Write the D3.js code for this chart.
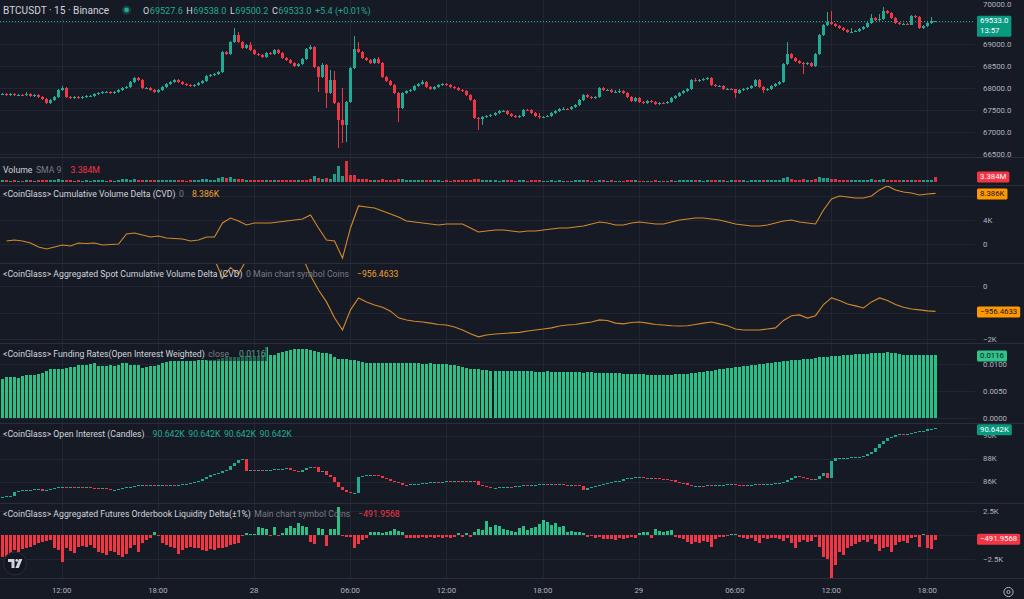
<!DOCTYPE html>
<html>
<head>
<meta charset="utf-8">
<script src="https://cdn.jsdelivr.net/npm/d3@7"></script>
<style>
  body { margin: 0; background: #161a25; overflow: hidden; }
  svg { display: block; }
</style>
</head>
<body>
<script>
// ---- Data (BTCUSDT 15m, Binance) ----
const firstCandle = '2024-05-27T08:15';
const candleMinutes = 15;
const timeTicks = ['2024-05-27T12:00','2024-05-27T18:00','2024-05-28T00:00','2024-05-28T06:00','2024-05-28T12:00',
  '2024-05-28T18:00','2024-05-29T00:00','2024-05-29T06:00','2024-05-29T12:00','2024-05-29T18:00'];
const timeTickLabels = ['12:00','18:00','28','06:00','12:00','18:00','29','06:00','12:00','18:00'];

const priceFirstOpen = 67860;
const priceClose = [
  67870,67848,67870,67848,67855,67845,67870,67825,67848,67802,
  67757,67666,67734,67802,67961,68007,67802,67779,67802,67779,
  67802,67825,67830,67870,67893,67916,67920,67893,67916,67961,
  68007,68029,68143,68234,68189,68007,68012,67961,67916,67961,
  68029,68098,68143,68189,68143,68098,68075,68052,68075,68120,
  68166,68280,68302,68325,68370,68825,68780,69052,69211,69052,
  68916,68984,68870,68780,68757,68711,68802,68780,68870,68802,
  68689,68643,68575,68507,68552,68666,68893,68939,68484,68257,
  68530,67893,68189,67666,67279,67166,67689,68461,68893,68825,
  68689,68643,68575,68666,68575,68257,68166,68075,67893,67552,
  67893,67939,67961,68052,68098,68143,68029,67984,68029,68075,
  68098,68075,68029,68007,67961,67939,67848,67734,67325,67302,
  67348,67370,67393,67438,67484,67490,67416,67370,67348,67370,
  67507,67500,67438,67370,67348,67355,67370,67438,67484,67529,
  67540,67520,67575,67620,67734,67848,67802,67779,67802,68007,
  67961,67970,67916,67925,67939,67893,67802,67711,67779,67689,
  67666,67711,67689,67643,67666,67660,67689,67779,67825,67893,
  67939,67984,68189,68166,68189,68211,68234,68075,68052,68060,
  67984,67990,67975,67893,67961,67984,68007,68052,68189,68029,
  67961,67984,68052,68098,68143,68552,68780,68689,68620,68575,
  68552,68575,68507,68780,69211,69439,69507,69461,69416,69371,
  69325,69280,69290,69302,69348,69393,69484,69598,69552,69575,
  69757,69712,69598,69484,69455,69470,69450,69643,69620,69371,
  69420,69480,69527.6,69533
];
const priceHigh = [
  67895,67890,67900,67885,67875,67875,67905,67890,67870,67865,
  67820,67770,67760,67820,67985,68055,68030,67820,67825,67820,
  67825,67845,67850,67890,67915,67940,67940,67935,67935,67980,
  68025,68050,68165,68260,68255,68210,68035,68030,67980,67985,
  68050,68115,68165,68210,68205,68160,68115,68095,68095,68140,
  68185,68300,68325,68345,68395,68850,68850,69080,69360,69290,
  69080,69005,69060,68890,68800,68775,68825,68830,68890,68885,
  68820,68705,68660,68590,68575,68690,68915,68985,68960,68500,
  68580,68550,68410,68400,67690,68000,67710,68480,69190,69050,
  68845,68710,68660,68690,68720,68590,68280,68190,68095,67910,
  67915,67960,67985,68075,68120,68190,68160,68045,68050,68095,
  68120,68115,68095,68050,68025,67980,67960,67865,67750,67345,
  67370,67395,67415,67460,67505,67510,67505,67435,67390,67390,
  67525,67530,67520,67455,67450,67375,67390,67460,67505,67550,
  67565,67560,67600,67640,67755,67870,67870,67820,67825,68030,
  68030,67990,67985,67960,67985,67960,67910,67820,67800,67800,
  67710,67730,67730,67705,67690,67690,67710,67800,67845,67915,
  67960,68005,68210,68230,68210,68235,68255,68250,68095,68080,
  68075,68010,68005,67995,67985,68005,68030,68075,68210,68210,
  68045,68005,68075,68120,68165,68575,69050,68800,68710,68640,
  68595,68600,68595,68800,69235,69460,69735,69760,69480,69440,
  69390,69345,69370,69325,69370,69415,69505,69690,69620,69680,
  69845,69780,69730,69620,69505,69490,69490,69665,69665,69640,
  69440,69500,69610,69538
];
const priceLow = [
  67840,67825,67830,67830,67825,67825,67835,67800,67810,67780,
  67730,67640,67650,67720,67790,67940,67780,67760,67765,67760,
  67765,67790,67805,67810,67855,67880,67895,67875,67875,67900,
  67945,67990,68015,68125,68170,67985,67985,67940,67895,67900,
  67945,68010,68080,68125,68125,68080,68055,68030,68035,68060,
  68100,68150,68260,68285,68305,68355,68755,68760,69030,69030,
  68895,68890,68850,68760,68735,68690,68690,68760,68760,68780,
  68665,68620,68550,68490,68490,68530,68650,68875,68460,67920,
  68235,67550,67870,67640,66645,66760,66780,67670,68440,68800,
  68665,68620,68550,68555,68550,68230,68140,68050,67870,67240,
  67530,67870,67920,67945,68035,68080,68010,67965,67965,68010,
  68060,68055,68010,67985,67940,67920,67825,67710,67300,67060,
  67170,67330,67350,67375,67420,67460,67395,67350,67325,67330,
  67355,67485,67415,67350,67300,67325,67340,67350,67420,67465,
  67510,67500,67500,67555,67600,67715,67780,67755,67755,67785,
  67940,67940,67895,67895,67895,67870,67780,67690,67690,67665,
  67645,67645,67665,67620,67625,67640,67645,67670,67760,67805,
  67875,67920,67965,68145,68145,68170,68195,68055,68030,68030,
  67965,67965,67955,67780,67870,67940,67965,67990,68035,68005,
  67890,67940,67965,68035,68080,68125,68530,68665,68600,68555,
  68320,68530,68485,68490,68760,69190,69420,69440,69395,69350,
  69300,69260,69260,69270,69285,69330,69375,69465,69530,69530,
  69555,69690,69575,69460,69435,69440,69430,69430,69600,69350,
  69350,69400,69460,69500.2
];

// Volume in millions; side: u = up bar, d = down bar
const volume = [
  1.2,0.9,0.8,0.9,0.7,0.8,1.0,0.9,0.8,1.1,
  1.0,1.4,1.1,1.0,1.6,1.5,1.3,0.9,0.8,0.9,
  0.8,0.9,0.8,1.0,1.1,0.9,0.8,0.9,0.8,1.0,
  1.9,1.8,1.5,1.6,1.3,1.4,1.0,1.1,0.9,1.0,
  1.1,1.2,1.0,1.1,0.9,1.0,0.8,0.9,1.0,1.2,
  1.6,2.0,1.3,1.2,2.4,3.3,3.0,3.4,2.0,2.2,
  1.6,1.4,1.5,1.2,1.1,1.0,1.3,1.1,1.2,1.0,
  1.1,1.0,1.2,1.1,1.0,1.2,1.3,1.6,4.0,2.7,
  2.3,2.7,2.0,5.2,11.3,4.0,14.9,4.5,4.5,2.0,
  1.8,1.6,1.5,1.4,1.3,1.6,1.5,1.3,1.4,2.2,
  1.6,1.2,1.1,1.0,1.1,1.2,1.0,0.9,1.0,0.9,
  0.8,0.9,0.8,0.9,1.0,0.9,1.1,1.3,2.2,1.8,
  1.4,1.0,0.9,1.0,0.8,0.9,1.0,0.9,0.8,0.9,
  1.1,0.8,0.9,1.0,0.9,0.8,0.7,0.9,0.8,0.9,
  0.8,0.7,0.8,0.9,1.0,1.1,0.9,0.8,0.7,1.2,
  0.9,0.8,0.9,0.8,0.7,0.8,0.9,1.0,0.9,0.8,
  0.8,0.7,0.8,0.9,0.8,0.7,0.8,0.9,0.8,1.0,
  0.9,1.0,1.5,1.0,0.9,0.8,0.9,1.2,1.0,0.9,
  0.9,0.8,0.9,1.1,1.0,0.9,0.8,0.9,1.3,1.1,
  1.0,0.9,1.0,1.1,1.2,2.8,3.6,1.8,1.5,1.4,
  1.6,1.2,1.3,2.2,3.3,3.0,2.4,2.0,1.6,1.4,
  1.3,1.2,1.0,0.9,1.0,1.1,1.3,1.6,1.2,1.1,
  1.8,1.4,1.3,1.2,1.0,0.9,1.0,1.3,1.1,1.4,
  1.2,1.1,1.0,3.384
];
const volumeSide = [
  'ududududud','dduuuuddud','uuuuuuuduu','uuuudduddu','uuuudddduu',
  'uuuuuuduud','duddddudud','ddddudddud','uduuuudddd','dddudddddd',
  'uuuuuudduu','uddddddddd','uuuuuudddu','udddduuuuu','uduuuudduu',
  'duduudddud','duddududuu','uuuduuuddu','duudduuuuu','duuuuuuddd',
  'dudduuuddd','dduuuuuudu','uddddududd','uuud'
].join('');

// CVD lines, one point every 30 minutes (candles 1, 3, 5 ... 233), in thousands
const cvdStep = 2, cvdFirst = 1;
const cvd = [
  0.54,0.71,0.54,0.21,-0.44,-0.77,-0.44,-0.12,-0.28,0.21,
  0.13,0.21,-0.12,-0.03,0.05,1.70,1.86,1.53,1.20,1.37,
  1.04,0.96,0.87,0.54,0.71,1.20,1.20,3.51,4.33,3.84,
  3.18,3.51,3.51,3.51,3.67,3.84,4.00,4.17,4.83,2.69,
  0.71,0.54,-2.26,2.69,6.31,6.14,5.98,5.49,4.99,4.50,
  3.84,3.67,3.51,3.34,3.18,3.34,3.34,3.34,2.69,2.03,
  2.19,2.36,2.36,2.19,2.03,2.19,2.19,2.36,2.52,2.69,
  2.69,2.85,3.01,3.34,3.67,3.51,3.18,3.18,3.51,3.67,
  3.51,3.34,3.34,3.67,4.00,4.17,4.33,4.33,4.17,4.00,
  3.67,3.34,3.18,3.01,3.01,3.18,3.51,3.84,4.00,3.67,
  3.51,3.34,5.65,7.46,7.96,7.79,7.63,7.63,7.96,8.95,
  9.60,8.95,8.62,8.45,8.12,8.29,8.386
];
const spotCvd = [
  1.6,1.7,1.6,1.5,1.3,1.2,1.3,1.4,1.3,1.5,
  1.5,1.5,1.4,1.4,1.45,2.1,2.2,2.0,1.9,1.95,
  1.8,1.75,1.7,1.5,1.6,1.9,1.0,0.3,0.7,0.45,
  1.0,1.2,1.3,1.2,1.25,1.3,1.2,1.1,0.4,-0.15,
  -0.6,-1.2,-1.66,-0.9,-0.45,-0.6,-0.72,-0.8,-0.95,-1.2,
  -1.28,-1.33,-1.36,-1.40,-1.45,-1.47,-1.55,-1.66,-1.80,-1.92,
  -1.85,-1.81,-1.79,-1.77,-1.75,-1.70,-1.66,-1.62,-1.58,-1.51,
  -1.47,-1.45,-1.40,-1.36,-1.28,-1.30,-1.40,-1.43,-1.38,-1.36,
  -1.40,-1.45,-1.47,-1.50,-1.51,-1.50,-1.45,-1.40,-1.36,-1.43,
  -1.50,-1.62,-1.66,-1.66,-1.66,-1.62,-1.58,-1.30,-1.12,-1.09,
  -1.21,-1.12,-0.70,-0.45,-0.55,-0.68,-0.75,-0.83,-0.60,-0.45,
  -0.55,-0.70,-0.80,-0.87,-0.90,-0.94,-0.9564633
];

const funding = [
  .0072,.0076,.0076,.0076,.0075,.0078,.0079,.0079,.0080,.0082,
  .0083,.0088,.0090,.0090,.0090,.0091,.0092,.0094,.0095,.0099,
  .0099,.0099,.0100,.0102,.0097,.0097,.0097,.0098,.0097,.0098,
  .0102,.0101,.0099,.0098,.0098,.0093,.0095,.0096,.0097,.0098,
  .0101,.0104,.0105,.0106,.0106,.0106,.0106,.0106,.0106,.0107,
  .0107,.0107,.0108,.0108,.0110,.0111,.0112,.0112,.0113,.0113,
  .0114,.0114,.0115,.0115,.0115,.0116,.0131,.0117,.0117,.0120,
  .0122,.0124,.0126,.0127,.0128,.0128,.0127,.0125,.0124,.0122,
  .0121,.0120,.0118,.0112,.0110,.0110,.0110,.0107,.0107,.0105,
  .0103,.0102,.0102,.0102,.0101,.0102,.0102,.0102,.0102,.0101,
  .0102,.0101,.0101,.0102,.0101,.0100,.0100,.0101,.0100,.0100,
  .0100,.0100,.0099,.0098,.0097,.0095,.0093,.0091,.0090,.0090,
  .0089,.0089,.0088,.0088,.0088,.0088,.0087,.0087,.0087,.0088,
  .0088,.0087,.0087,.0086,.0086,.0086,.0087,.0086,.0086,.0086,
  .0086,.0086,.0085,.0085,.0085,.0084,.0085,.0085,.0084,.0084,
  .0084,.0083,.0083,.0083,.0083,.0082,.0082,.0082,.0081,.0081,
  .0081,.0080,.0080,.0080,.0080,.0080,.0080,.0080,.0081,.0081,
  .0082,.0082,.0083,.0084,.0085,.0086,.0087,.0088,.0089,.0090,
  .0091,.0092,.0093,.0094,.0095,.0096,.0097,.0098,.0099,.0100,
  .0100,.0101,.0102,.0103,.0104,.0105,.0106,.0107,.0108,.0108,
  .0109,.0110,.0110,.0111,.0112,.0113,.0113,.0114,.0115,.0115,
  .0116,.0117,.0117,.0118,.0118,.0119,.0119,.0120,.0121,.0120,
  .0121,.0122,.0121,.0120,.0118,.0117,.0116,.0117,.0117,.0116,
  .0116,.0117,.0116,.0116
];

// Open interest candles (thousands), open = previous close
const oiFirstOpen = 84.68;
const oiClose = [
  84.70,84.72,84.75,85.13,85.20,85.25,85.28,85.30,85.35,85.37,
  85.20,85.30,85.36,85.43,85.50,85.57,85.52,85.55,85.50,85.52,
  85.48,85.50,85.47,85.45,85.43,85.45,85.40,85.28,85.30,85.35,
  85.42,85.50,85.55,85.62,85.70,85.72,85.70,85.72,85.68,85.70,
  85.71,85.69,85.72,85.71,85.74,85.77,85.80,85.86,85.95,86.06,
  86.20,86.40,86.58,86.70,86.78,86.90,87.02,87.35,87.60,87.89,
  87.95,86.95,87.05,87.00,87.02,86.93,86.98,87.03,87.08,87.10,
  87.12,87.17,87.05,86.95,86.87,86.98,87.15,87.30,87.25,86.87,
  86.95,86.58,86.45,86.00,85.57,85.28,85.10,84.99,85.05,86.43,
  86.52,86.55,86.58,86.56,86.52,86.30,86.25,86.10,85.95,85.86,
  85.75,85.71,85.76,85.80,85.83,85.86,85.88,85.95,86.00,85.98,
  86.00,86.03,86.02,86.05,86.04,86.06,86.05,86.06,86.02,85.75,
  85.60,85.55,85.43,85.48,85.52,85.55,85.57,85.55,85.60,85.65,
  85.71,85.70,85.72,85.74,85.76,85.77,85.75,85.77,85.76,85.78,
  85.72,85.71,85.73,85.70,85.60,85.28,85.45,85.57,85.60,85.70,
  85.77,85.85,85.95,86.06,86.10,86.20,86.28,86.32,86.38,86.40,
  86.35,86.30,86.32,86.28,86.25,86.20,86.15,86.12,85.98,85.90,
  85.86,85.70,85.63,85.65,85.66,85.64,85.67,85.63,85.70,85.72,
  85.75,85.77,85.77,85.74,85.70,85.63,85.68,85.74,85.77,85.76,
  85.80,85.82,85.84,85.86,85.88,86.00,86.15,86.35,86.52,86.45,
  86.30,86.25,86.15,86.20,86.50,86.73,86.30,87.80,88.03,88.05,
  88.05,88.10,88.12,88.15,88.17,88.20,88.38,88.60,88.90,89.30,
  89.50,89.77,89.85,90.05,90.15,90.12,90.18,90.21,90.30,90.41,
  90.45,90.55,90.60,90.642
];

// Aggregated futures orderbook liquidity delta (thousands of coins)
const obDelta = [
  -2.26,-2.26,-2.08,-1.56,-1.74,-1.46,-1.39,-1.22,-1.04,-0.87,
  -0.76,-0.63,-0.52,-1.39,-1.56,-2.85,-1.39,-1.67,-1.84,-1.22,
  -1.11,-1.22,-1.04,-1.39,-1.74,-1.91,-2.08,-1.67,-1.74,-2.08,
  -2.26,-2.01,-1.39,-1.04,-1.74,-0.87,-0.52,-0.35,0.28,-0.03,
  -0.87,-1.04,-1.22,-1.39,-2.01,-1.56,-1.39,-1.22,-1.39,-1.32,
  -1.56,-1.67,-1.46,-1.56,-1.39,-1.32,-1.22,-1.04,-0.97,-0.87,
  -0.10,0.17,0.07,0.10,0.87,0.69,0.63,-0.07,0.87,-0.07,
  0.17,0.76,0.97,0.76,1.22,0.97,0.87,-0.69,-0.97,0.76,
  0.63,-1.11,0.63,0.63,2.95,-0.10,-0.17,-0.24,-1.32,-0.97,
  -0.52,-0.35,0.35,0.28,0.35,0.17,0.28,0.42,0.63,0.42,
  0.35,-0.35,-0.35,-0.28,-0.28,-0.24,-0.31,-0.21,-0.28,-0.24,
  -0.31,-0.24,-0.35,-0.21,0.17,-0.17,0.17,-0.17,0.35,0.63,
  0.52,1.46,0.87,1.04,0.97,0.63,0.52,0.42,0.35,0.76,
  0.97,0.52,0.69,0.87,1.11,1.56,1.32,1.04,1.22,0.87,
  0.97,0.35,0.42,0.35,0.28,0.17,-0.17,-0.10,-0.35,-0.17,
  -0.42,-0.45,-0.42,-0.52,-0.35,-0.45,-0.28,-0.21,-0.35,0.17,
  0.35,0.28,-0.28,0.63,0.42,0.35,0.42,0.52,-0.17,-0.28,
  -0.42,-0.69,-0.97,-0.76,-0.87,-0.63,-0.76,-1.22,-0.45,-0.24,
  -0.17,-0.10,0.14,0.07,-0.17,-0.35,-0.42,-0.28,-0.63,-0.87,
  -0.35,-0.42,-0.28,-0.35,-0.42,-0.63,-0.28,-0.87,-1.32,-0.69,
  -0.52,-0.76,-0.63,-0.17,-1.22,-2.26,-2.50,-4.44,-3.13,-1.75,
  -2.08,-1.39,-1.11,-0.97,-0.76,-0.52,-0.69,-0.42,-0.97,-1.67,
  -1.32,-1.22,-1.81,-1.04,-0.76,-0.63,-0.87,-0.35,-0.24,-1.22,
  0.07,-1.39,-1.46,-0.4919568
];

// Axis tick values per pane
const priceTicks = [66500, 67000, 67500, 68000, 68500, 69000, 69500, 70000];
const cvdTicks = [0, 4, 8];
const spotTicks = [-2, -1, 0];
const fundingTicks = [0, 0.005, 0.01];
const oiTicks = [86, 88, 90];
const obTicks = [-2.5, 0, 2.5];

// ---- Drawing ----
const W = 1024, H = 599, PLOT_W = 975;
const UP = '#22ab94', DOWN = '#f23645', MINT = '#2bbf86', ORANGE = '#d3892a';
const TXT = '#d1d4dc', MUTED = '#787b86', AXIS = '#b2b5be';
const FONT = 'Roboto, "Liberation Sans", Arial, sans-serif';

const svg = d3.select('body').append('svg')
  .attr('width', W).attr('height', H)
  .style('font-family', FONT);
svg.append('rect').attr('width', W).attr('height', H).attr('fill', '#161a25');

const parse = d3.timeParse('%Y-%m-%dT%H:%M');
const t0 = parse(firstCandle);
const tickDates = timeTicks.map(parse);
const x = d3.scaleTime()
  .domain([tickDates[0], tickDates[tickDates.length - 1]])
  .range([61.7, 927.3]);
const candleX = i => Math.round(x(d3.timeMinute.offset(t0, candleMinutes * i)));

const kFmt = d => d === 0 ? '0' : (d < 0 ? '\u2212' : '') + Math.abs(d) + 'K';
const panes = [
  { id: 'price',   top: 0,   bottom: 157, domain: [66500, 69000], range: [154.3, 44.3], ticks: priceTicks, fmt: d => d.toFixed(1) },
  { id: 'volume',  top: 157, bottom: 185, domain: [0, 10],        range: [181.7, 167.8], ticks: [], fmt: null },
  { id: 'cvd',     top: 185, bottom: 263, domain: [0, 4],         range: [244.3, 220], ticks: cvdTicks, fmt: kFmt },
  { id: 'spot',    top: 263, bottom: 343, domain: [-2, 0],        range: [339, 286], ticks: spotTicks, fmt: kFmt },
  { id: 'funding', top: 343, bottom: 423, domain: [0, 0.01],      range: [418.3, 364], ticks: fundingTicks, fmt: d => d.toFixed(4) },
  { id: 'oi',      top: 423, bottom: 503, domain: [86, 88],       range: [481.7, 458.7], ticks: oiTicks, fmt: d => d + 'K' },
  { id: 'ob',      top: 503, bottom: 578, domain: [-2.5, 2.5],    range: [559, 511], ticks: obTicks, fmt: kFmt }
];
const P = {};
const defs = svg.append('defs');
panes.forEach(p => {
  p.y = d3.scaleLinear().domain(p.domain).range(p.range);
  defs.append('clipPath').attr('id', 'clip-' + p.id)
    .append('rect').attr('x', 0).attr('y', p.top).attr('width', PLOT_W).attr('height', p.bottom - p.top);
  const grid = svg.append('g').attr('clip-path', 'url(#clip-' + p.id + ')').attr('shape-rendering', 'crispEdges');
  // horizontal grid
  grid.selectAll('line.h')
    .data(p.ticks.filter(t => p.y(t) > p.top + 2 && p.y(t) < p.bottom - 2))
    .join('line')
      .attr('x1', 0).attr('x2', PLOT_W)
      .attr('y1', t => Math.round(p.y(t)) + 0.5).attr('y2', t => Math.round(p.y(t)) + 0.5)
      .attr('stroke', '#222633').attr('stroke-width', 1);
  // vertical grid at time ticks
  grid.selectAll('line.v')
    .data(tickDates)
    .join('line')
      .attr('x1', d => Math.round(x(d)) + 0.5).attr('x2', d => Math.round(x(d)) + 0.5)
      .attr('y1', p.top).attr('y2', p.bottom)
      .attr('stroke', '#222633').attr('stroke-width', 1);
  p.g = svg.append('g').attr('clip-path', 'url(#clip-' + p.id + ')');
  P[p.id] = p;
});

// Candles helper
function drawCandles(p, open, high, low, close, withWicks) {
  const n = close.length;
  const g = p.g.append('g').attr('shape-rendering', 'crispEdges');
  d3.range(n).forEach(i => {
    const o = open[i], c = close[i];
    const col = c >= o ? UP : DOWN;
    const cx = candleX(i);
    if (withWicks) {
      const hi = Math.max(high[i], o, c), lo = Math.min(low[i], o, c);
      g.append('rect').attr('x', cx).attr('width', 1)
        .attr('y', p.y(hi)).attr('height', Math.max(1, p.y(lo) - p.y(hi))).attr('fill', col);
    }
    const yTop = p.y(Math.max(o, c)), yBot = p.y(Math.min(o, c));
    g.append('rect').attr('x', cx - 1).attr('width', 3)
      .attr('y', yTop).attr('height', Math.max(1, yBot - yTop)).attr('fill', col);
  });
}

// Price
const priceOpen = priceClose.map((c, i) => i === 0 ? priceFirstOpen : priceClose[i - 1]);
drawCandles(P.price, priceOpen, priceHigh, priceLow, priceClose, true);
const lastPrice = priceClose[priceClose.length - 1];
svg.append('line')
  .attr('x1', 0).attr('x2', PLOT_W)
  .attr('y1', Math.round(P.price.y(lastPrice)) + 0.5).attr('y2', Math.round(P.price.y(lastPrice)) + 0.5)
  .attr('stroke', UP).attr('stroke-dasharray', '1,2').attr('stroke-width', 1);

// Volume
P.volume.g.append('g').attr('shape-rendering', 'crispEdges')
  .selectAll('rect').data(volume).join('rect')
  .attr('x', (d, i) => candleX(i) - 1).attr('width', 3)
  .attr('y', d => P.volume.y(d)).attr('height', d => P.volume.y(0) - P.volume.y(d))
  .attr('fill', (d, i) => volumeSide[i] === 'u' ? UP : DOWN)
  .attr('opacity', 0.9);

// CVD lines
function drawLine(p, values) {
  const line = d3.line()
    .x((d, k) => candleX(cvdFirst + cvdStep * k) + 0.5)
    .y(d => p.y(d));
  p.g.append('path').datum(values).attr('d', line)
    .attr('fill', 'none').attr('stroke', ORANGE).attr('stroke-width', 1.1);
}
drawLine(P.cvd, cvd);
drawLine(P.spot, spotCvd);

// Funding bars
P.funding.g.append('g').attr('shape-rendering', 'crispEdges')
  .selectAll('rect').data(funding).join('rect')
  .attr('x', (d, i) => candleX(i) - 1).attr('width', 3)
  .attr('y', d => P.funding.y(d)).attr('height', d => P.funding.y(0) - P.funding.y(d))
  .attr('fill', MINT);

// Open interest candles
const oiOpen = oiClose.map((c, i) => i === 0 ? oiFirstOpen : oiClose[i - 1]);
drawCandles(P.oi, oiOpen, null, null, oiClose, false);

// Orderbook delta bars
P.ob.g.append('g').attr('shape-rendering', 'crispEdges')
  .selectAll('rect').data(obDelta).join('rect')
  .attr('x', (d, i) => candleX(i) - 1).attr('width', 3)
  .attr('y', d => P.ob.y(Math.max(0, d)))
  .attr('height', d => Math.max(1, Math.abs(P.ob.y(d) - P.ob.y(0))))
  .attr('fill', d => d >= 0 ? MINT : DOWN);

// Pane separators
panes.forEach(p => {
  svg.append('line').attr('x1', 0).attr('x2', W)
    .attr('y1', p.bottom + 0.5).attr('y2', p.bottom + 0.5)
    .attr('stroke', '#2a2e39').attr('stroke-width', 1);
});

// Value boxes on the right scale (drawn later); their vertical centres and line counts
const boxes = [
  { yc: 26.2, lines: ['69533.0', '13:57'], fill: '#089981', color: '#ffffff' },
  { yc: 177, lines: ['3.384M'], fill: DOWN, color: '#ffffff' },
  { yc: 194, lines: ['8.386K'], fill: '#ff9800', color: '#131722' },
  { yc: 312, lines: ['\u2212956.4633'], fill: '#ff9800', color: '#131722' },
  { yc: 356, lines: ['0.0116'], fill: '#2fc28a', color: '#131722' },
  { yc: 429.7, lines: ['90.642K'], fill: '#089981', color: '#ffffff' },
  { yc: 539.3, lines: ['\u2212491.9568'], fill: DOWN, color: '#ffffff' }
];
boxes.forEach(b => { b.h = b.lines.length * 10 + 1; });
const underBox = yy => boxes.some(b => yy > b.yc - b.h / 2 && yy < b.yc + b.h / 2);

// Right axes (labels hidden by a value box are skipped, as on the chart)
panes.filter(p => p.ticks.length).forEach(p => {
  const vals = p.ticks.filter(t => p.y(t) > p.top - 4 && p.y(t) < p.bottom && !underBox(p.y(t)));
  const ax = svg.append('g').attr('transform', 'translate(' + PLOT_W + ',0)')
    .call(d3.axisRight(p.y).tickValues(vals).tickSize(0).tickPadding(8).tickFormat(p.fmt));
  ax.select('.domain').remove();
  ax.selectAll('text').attr('fill', AXIS).style('font-size', '7.8px').style('font-family', FONT);
  // keep a label at the very top edge inside the picture
  ax.selectAll('.tick').attr('transform', t => 'translate(0,' + Math.max(4, p.y(t)) + ')');
});

// Time axis
svg.append('g').selectAll('text').data(tickDates).join('text')
  .attr('x', d => x(d)).attr('y', 591)
  .attr('text-anchor', 'middle').attr('dominant-baseline', 'middle')
  .attr('fill', AXIS).style('font-size', '7.8px')
  .text((d, i) => timeTickLabels[i]);

// Legends
function legend(y, parts, size) {
  const t = svg.append('text').attr('x', 3).attr('y', y).style('font-size', (size || 8.7) + 'px');
  parts.forEach((pt, k) => {
    t.append('tspan').attr('dx', k === 0 ? 0 : (pt[2] || 3.5)).attr('fill', pt[1]).text(pt[0]);
  });
  return t;
}
// funding legend backdrop
svg.append('rect').attr('x', 207).attr('y', 347).attr('width', 60).attr('height', 14)
  .attr('fill', '#161a25').attr('opacity', 0.55);

const teal = UP;
legend(13.5, [['BTCUSDT \u00b7 15 \u00b7 Binance', TXT]], 10.1);
svg.append('circle').attr('cx', 126.5).attr('cy', 10).attr('r', 4.5).attr('fill', teal).attr('opacity', 0.25);
svg.append('circle').attr('cx', 126.5).attr('cy', 10).attr('r', 2.4).attr('fill', teal);
const ohlc = svg.append('text').attr('x', 143).attr('y', 13.5).style('font-size', '9.1px');
[['O', TXT, 0], ['69527.6', teal, 0.5], ['H', TXT, 3.5], ['69538.0', teal, 0.5], ['L', TXT, 3.5], ['69500.2', teal, 0.5],
 ['C', TXT, 3.5], ['69533.0', teal, 0.5], ['+5.4 (+0.01%)', teal, 3.5]].forEach(pt => {
  ohlc.append('tspan').attr('dx', pt[2]).attr('fill', pt[1]).text(pt[0]);
});

legend(172.5, [['Volume', TXT], ['SMA 9', MUTED], ['3.384M', DOWN, 9]]);
legend(197, [['<CoinGlass> Cumulative Volume Delta (CVD)', TXT], ['0', MUTED], ['8.386K', '#f0a030', 8]]);
legend(277, [['<CoinGlass> Aggregated Spot Cumulative Volume Delta (CVD)', TXT], ['0 Main chart symbol Coins', MUTED], ['\u2212956.4633', '#f0a030', 8]]);
legend(357, [['<CoinGlass> Funding Rates(Open Interest Weighted)', TXT], ['close', MUTED], ['0.0116', '#5f9e8c', 10]]);
legend(437, [['<CoinGlass> Open Interest (Candles)', TXT], ['90.642K', teal, 8], ['90.642K', teal], ['90.642K', teal], ['90.642K', teal]]);
legend(517, [['<CoinGlass> Aggregated Futures Orderbook Liquidity Delta(\u00b11%)', TXT], ['Main chart symbol Coins', MUTED], ['\u2212491.9568', DOWN, 8]]);

// Value boxes
boxes.forEach(b => {
  const g = svg.append('g');
  const rect = g.append('rect').attr('x', 977).attr('y', b.yc - b.h / 2).attr('height', b.h).attr('rx', 1.5).attr('fill', b.fill);
  let wmax = 0;
  b.lines.forEach((s, k) => {
    const t = g.append('text').attr('x', 980).attr('y', b.yc - b.h / 2 + 5.5 + k * 10)
      .attr('dominant-baseline', 'middle').attr('fill', b.color).style('font-size', '7.8px').text(s);
    wmax = Math.max(wmax, t.node().getComputedTextLength());
  });
  rect.attr('width', wmax + 6);
});

// TradingView badge
const badge = svg.append('g');
badge.append('circle').attr('cx', 15).attr('cy', 563.5).attr('r', 11.5).attr('fill', '#131722').attr('stroke', '#2a2e39');
badge.append('path').attr('d', 'M8,559 h6.5 v9 h-3 v-6 h-3.5 z').attr('fill', TXT);
badge.append('circle').attr('cx', 16.8).attr('cy', 560.4).attr('r', 1.4).attr('fill', TXT);
badge.append('path').attr('d', 'M19,559 h3.4 l-3.6,9 h-3.4 z').attr('fill', TXT);

// Settings gear
svg.append('circle').attr('cx', 1008.5).attr('cy', 592).attr('r', 4.6).attr('fill', 'none').attr('stroke', AXIS).attr('stroke-width', 1);
svg.append('circle').attr('cx', 1008.5).attr('cy', 592).attr('r', 1.6).attr('fill', 'none').attr('stroke', AXIS).attr('stroke-width', 1);
</script>
</body>
</html>
